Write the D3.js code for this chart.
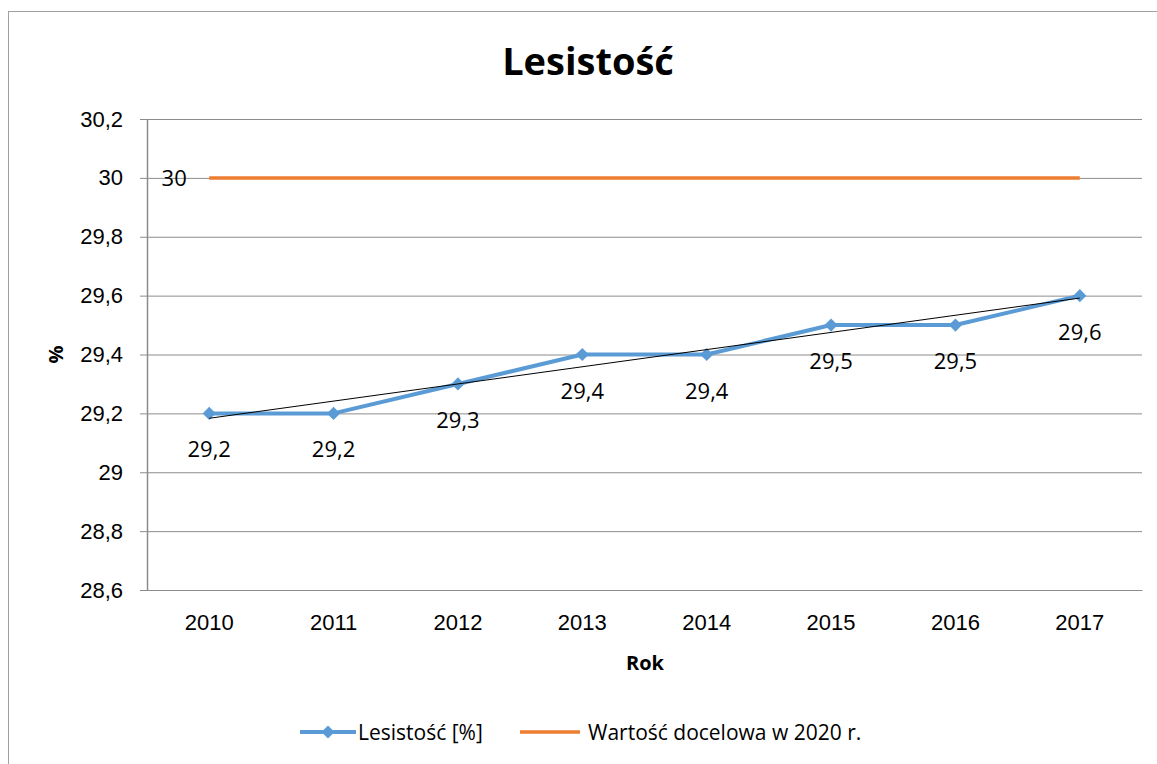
<!DOCTYPE html>
<html>
<head>
<meta charset="utf-8">
<script src="https://cdn.jsdelivr.net/npm/d3@7"></script>
<style>
  html, body { margin: 0; padding: 0; background: #fff; }
  svg { display: block; font-family: "Open Sans", "Noto Sans", sans-serif; }
</style>
</head>
<body>
<svg id="chart" width="1157" height="764"></svg>
<script>
// Forest cover (%) by year, with the 2020 target
const years = ["2010", "2011", "2012", "2013", "2014", "2015", "2016", "2017"];
const forestCover = [29.2, 29.2, 29.3, 29.4, 29.4, 29.5, 29.5, 29.6];
const targetValue = [30, 30, 30, 30, 30, 30, 30, 30];
const yTicks = [28.6, 28.8, 29, 29.2, 29.4, 29.6, 29.8, 30, 30.2];
const seriesNames = ["Lesistość [%]", "Wartość docelowa w 2020 r."];

const blue = "#5b9bd5";
const orange = "#ed7d31";
const grid = "#8c8c8c";
const numSize = 22;

const svg = d3.select("#chart");
const W = 1157, H = 764;
const margin = { left: 147, right: 15, top: 119, bottom: 174 };
const plotW = W - margin.left - margin.right;
const plotH = H - margin.top - margin.bottom;

const fmt = v => String(+v.toFixed(1)).replace(".", ",");

// outer chart frame
svg.append("rect")
  .attr("x", 8.5).attr("y", 11.5)
  .attr("width", 1160).attr("height", 800)
  .attr("fill", "none").attr("stroke", "#a0a0a0").attr("stroke-width", 1);

const x = d3.scaleBand().domain(years).range([0, plotW]);
const y = d3.scaleLinear().domain([28.6, 30.2]).range([plotH, 0]);
const cx = d => x(d) + x.bandwidth() / 2;

const g = svg.append("g").attr("transform", `translate(${margin.left},${margin.top})`);

// horizontal gridlines + y axis
const yAxis = g.append("g")
  .call(d3.axisLeft(y).tickValues(yTicks).tickSize(-plotW).tickPadding(24).tickFormat(fmt));
yAxis.select(".domain").remove();
yAxis.selectAll(".tick line").attr("stroke", grid).attr("x1", -7);
yAxis.selectAll(".tick text").attr("font-size", numSize).attr("fill", "#000");

// vertical axis line
g.append("line").attr("x1", 0.5).attr("x2", 0.5).attr("y1", 0).attr("y2", plotH)
  .attr("stroke", grid).attr("stroke-width", 1.5);

// x axis labels
const xAxis = g.append("g").attr("transform", `translate(0,${plotH})`)
  .call(d3.axisBottom(x).tickSize(0).tickPadding(24));
xAxis.select(".domain").attr("stroke", grid);
xAxis.selectAll(".tick text").attr("font-size", numSize).attr("fill", "#000");

// target line
g.append("path")
  .datum(targetValue)
  .attr("fill", "none").attr("stroke", orange).attr("stroke-width", 3.5)
  .attr("d", d3.line().x((d, i) => cx(years[i])).y(d => y(d)));

g.append("text")
  .attr("x", cx(years[0]) - 35).attr("y", y(targetValue[0]) + 8)
  .attr("text-anchor", "middle").attr("font-size", numSize).text(fmt(targetValue[0]));

// forest cover series
g.append("path")
  .datum(forestCover)
  .attr("fill", "none").attr("stroke", blue).attr("stroke-width", 4)
  .attr("stroke-linejoin", "round")
  .attr("d", d3.line().x((d, i) => cx(years[i])).y(d => y(d)));

const diamond = d3.symbol().type(d3.symbolDiamond2).size(110);
g.selectAll(".pt").data(forestCover).join("path")
  .attr("class", "pt")
  .attr("transform", (d, i) => `translate(${cx(years[i])},${y(d)})`)
  .attr("d", diamond).attr("fill", blue);

// linear trend of the forest cover series
const n = forestCover.length;
const mx = d3.mean(forestCover, (d, i) => i);
const my = d3.mean(forestCover);
const slope = d3.sum(forestCover, (d, i) => (i - mx) * (d - my)) / d3.sum(forestCover, (d, i) => (i - mx) ** 2);
const icpt = my - slope * mx;
g.append("line")
  .attr("x1", cx(years[0])).attr("y1", y(icpt))
  .attr("x2", cx(years[n - 1])).attr("y2", y(icpt + slope * (n - 1)))
  .attr("stroke", "#000").attr("stroke-width", 1);

// value labels below points
g.selectAll(".lbl").data(forestCover).join("text")
  .attr("class", "lbl")
  .attr("x", (d, i) => cx(years[i])).attr("y", d => y(d) + 44)
  .attr("text-anchor", "middle").attr("font-size", numSize).text(fmt);

// title and axis titles
svg.append("text").attr("x", 588).attr("y", 75).attr("text-anchor", "middle")
  .attr("font-size", 38).attr("font-weight", "bold").text("Lesistość");
svg.append("text").attr("x", 645).attr("y", 670).attr("text-anchor", "middle")
  .attr("font-size", 20).attr("font-weight", "bold").text("Rok");
svg.append("text")
  .attr("transform", `translate(63,${margin.top + plotH / 2}) rotate(-90)`)
  .attr("text-anchor", "middle").attr("font-size", 20).attr("font-weight", "bold").text("%");

// legend
const leg = svg.append("g").attr("transform", "translate(0,732)");
leg.append("line").attr("x1", 300).attr("x2", 356).attr("y1", 0).attr("y2", 0)
  .attr("stroke", blue).attr("stroke-width", 4);
leg.append("path").attr("transform", "translate(328,0)").attr("d", diamond).attr("fill", blue);
leg.append("text").attr("x", 358).attr("y", 8).attr("font-size", 21).text(seriesNames[0]);
leg.append("line").attr("x1", 520).attr("x2", 580).attr("y1", 0).attr("y2", 0)
  .attr("stroke", orange).attr("stroke-width", 3.5);
leg.append("text").attr("x", 588).attr("y", 8).attr("font-size", 21).text(seriesNames[1]);
</script>
</body>
</html>
